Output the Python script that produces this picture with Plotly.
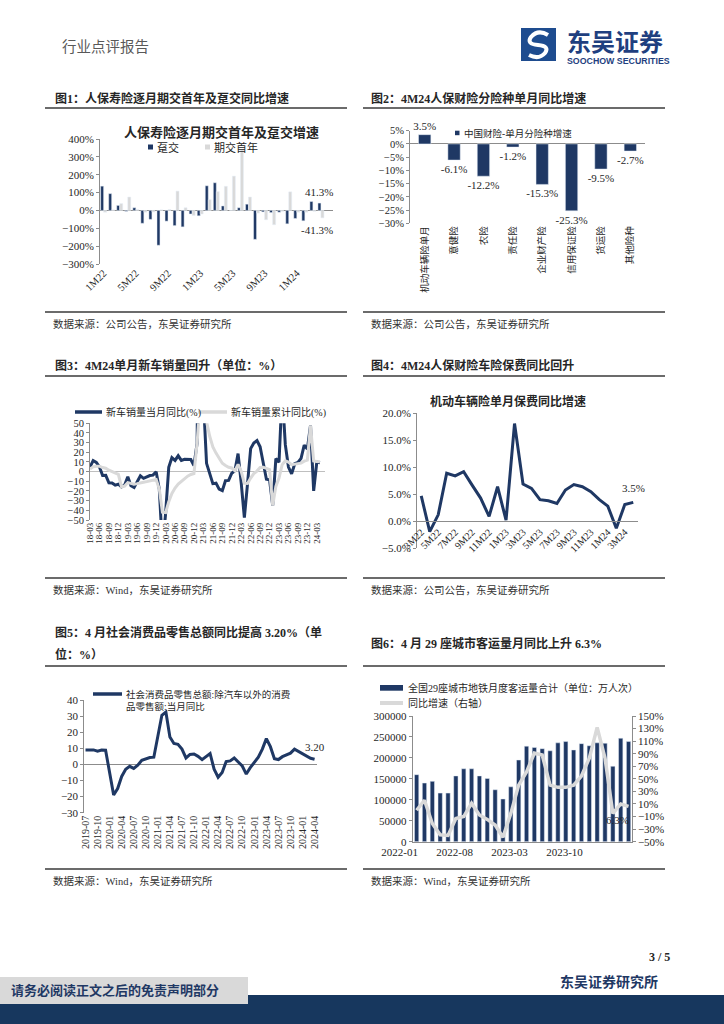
import plotly.graph_objects as go

# ---------------- data ----------------
months1 = [f"{m}M{y}" for y in (22, 23, 24) for m in range(1, 13)][:28]
dun1 = [136, 94, 28, -5, 15, -72, -50, -195, -60, -85, -92, -20, -30, 138,
        155, 25, 0, 15, 35, -162, -8, -12, -10, -75, -45, -58, 50, 41.3]
first1 = [-10, 3, 38, 75, 5, -10, -8, 3, 5, 108, 15, -28, -20, 60,
          105, 135, 192, 338, 75, -15, -52, -80, -5, 104, -10, -10, -5, -41.3]

cats2 = ["机动车辆险单月", "意健险", "农险", "责任险", "企业财产险", "信用保证险", "货运险", "其他险种"]
vals2 = [3.5, -6.1, -12.2, -1.2, -15.3, -25.3, -9.5, -2.7]

months3 = [f"{y:02d}-{m:02d}" for y in range(18, 25) for m in range(1, 13)][2:76]
cur3 = [4.7, 11.5, 9.6, 4.8, -4.0, -3.8, -11.6, -11.7, -13.9, -13.0,
        -15.8, -13.8, -5.2, -14.6, -16.4, -9.6, -4.3, -6.9, -5.2, -4.0, -3.6, 0.0,
        -18.0, -79.1, -43.3, 4.4, 14.5, 11.6, 16.4, 11.6, 12.8, 12.5, 12.6, 6.4,
        29.5, 364.6, 74.9, 8.6, -3.1, -12.4, -11.9, -18.1, -19.6, -9.4, -9.1, -1.6,
        0.9, 18.7, -11.7, -47.6, -12.6, 23.8, 29.7, 32.1, 25.7, 6.9, -7.9, -8.4,
        -35.0, 13.5, 9.7, 82.7, 27.9, 4.8, -2.3, 8.2, 9.5, 13.8, 27.4, 23.5,
        47.9, -19.9, 9.9, 9.3]
cum3 = [2.8, 5.0, 5.6, 5.6, 4.2, 3.5, 1.5, -0.1, -1.7, -2.8,
        -15.8, -14.9, -11.3, -12.1, -12.9, -12.4, -11.4, -11.0, -10.3, -9.7, -9.1, -8.2,
        -18.0, -42.0, -42.4, -31.1, -22.6, -16.9, -12.8, -10.0, -6.9, -4.7, -2.9, -1.9,
        29.5, 76.0, 75.6, 51.8, 36.6, 25.6, 19.2, 13.7, 8.7, 6.3, 4.5, 3.8,
        0.9, 7.5, 0.3, -12.1, -12.2, -6.6, -2.0, 0.6, 4.4, 4.6, 3.3, 2.1,
        -35.0, -15.2, -6.7, 7.1, 11.1, 9.8, 7.2, 7.6, 7.7, 8.8, 10.8, 12.0,
        47.9, 11.1, 10.6, 10.2]

months4 = [f"{m}M{y}" for y in (22, 23, 24) for m in range(1, 13)][2:28]
auto4 = [4.7, -1.9, 1.2, 8.9, 8.4, 9.2, 6.7, 4.3, 0.9, 6.4, 0.2, 18.1, 6.9,
         6.1, 4.0, 3.8, 3.3, 5.8, 6.8, 6.4, 5.5, 4.0, 2.8, -1.3, 3.1, 3.5]

months5 = [f"{y}-{m:02d}" for y in range(2019, 2025) for m in range(1, 13)][6:64]
retail5 = [9.0, 9.2, 9.0, 8.2, 8.9, 8.8,
           None, -19.0, -15.0, -7.5, -3.0, -1.2, -2.5, -0.5, 2.5, 3.6, 4.3, 4.5,
           None, 30.5, 32.5, 17.0, 13.0, 12.5, 9.5, 4.0, 6.2, 6.5, 5.0, 3.0,
           None, 6.8, -3.0, -8.0, -5.0, 1.8, 2.2, 4.0, 1.2, -1.0, -6.0, -2.0,
           None, 4.5, 9.5, 16.0, 11.0, 3.5, 3.0, 4.8, 5.7, 7.0, 9.5, 8.0,
           None, 5.0, 3.8, 3.2]

months6 = [f"{y}-{m:02d}" for y in range(2022, 2025) for m in range(1, 13)][:28]
metro6 = [160000, 140000, 144000, 116000, 116000, 157000, 174000, 174000, 157000, 151000,
          124000, 102000, 131000, 195000, 228000, 225000, 222000, 217000, 236000, 239000,
          219000, 234000, 229000, 236000, 235000, 180000, 247000, 239000]
yoy6 = [0, 16, -21, -39, -40, -13, -10, 11, -7.5, -14.5, -23.5, -43, -5, 40, 61, 91,
        88, 40, 36.5, 36.5, 40, 54.5, 83, 132, 83, -5, 10, 6.3]

# ---------------- style ----------------
W, H = 724, 1024
NAVY = "#1F3864"
LGRAY = "#D9D9D9"
AXC = "#8C8C8C"
TXT = "#262626"
SERIF = "Liberation Serif, Noto Sans CJK SC, serif"


def fx(p):
    return p / W


def fy(p):
    return 1 - p / H


def dom_x(a, b):
    return [fx(a), fx(b)]


def dom_y(top, bottom):
    return [fy(bottom), fy(top)]


def yax(domain, rng, dtick, anchor, suffix="", fmt=None, zl=False, side="left", size=11):
    d = dict(domain=domain, range=rng, dtick=dtick, tick0=rng[0], ticksuffix=suffix,
             showgrid=False, zeroline=zl, zerolinecolor=AXC, zerolinewidth=1,
             showline=True, linecolor=AXC, linewidth=1, ticks="outside", ticklen=3,
             tickcolor=AXC, tickfont=dict(family=SERIF, size=size, color=TXT),
             anchor=anchor, side=side, fixedrange=True, automargin=False)
    if fmt:
        d["tickformat"] = fmt
    return d


def xax(domain, rng, tickvals, angle, anchor, size=10, line=False):
    return dict(domain=domain, type="category", range=rng, tickvals=tickvals,
                tickangle=angle, showgrid=False, zeroline=False, showline=line,
                linecolor=AXC, linewidth=1, ticks="",
                tickfont=dict(family=SERIF, size=size, color=TXT), anchor=anchor,
                fixedrange=True, automargin=False)


fig = go.Figure()

# chart 1
fig.add_trace(go.Bar(x=months1, y=dun1, xaxis="x", yaxis="y", marker_color=NAVY,
                     width=0.37, offset=-0.37))
fig.add_trace(go.Bar(x=months1, y=first1, xaxis="x", yaxis="y", marker_color=LGRAY,
                     width=0.37, offset=0.0))
# chart 2
fig.add_trace(go.Bar(x=cats2, y=vals2, xaxis="x2", yaxis="y2", marker_color=NAVY, width=0.42,
                     text=[f"{v}%" for v in vals2], textposition="outside",
                     textfont=dict(family=SERIF, size=11, color=TXT), cliponaxis=False,
                     constraintext="none"))
# chart 3
fig.add_trace(go.Scatter(x=months3, y=cur3, xaxis="x3", yaxis="y3", mode="lines",
                         line=dict(color=NAVY, width=3)))
fig.add_trace(go.Scatter(x=months3, y=cum3, xaxis="x3", yaxis="y3", mode="lines",
                         line=dict(color=LGRAY, width=3)))
# chart 4
fig.add_trace(go.Scatter(x=months4, y=auto4, xaxis="x4", yaxis="y4", mode="lines",
                         line=dict(color=NAVY, width=3)))
# chart 5
fig.add_trace(go.Scatter(x=months5, y=retail5, xaxis="x5", yaxis="y5", mode="lines",
                         connectgaps=True, line=dict(color=NAVY, width=3)))
# chart 6
fig.add_trace(go.Bar(x=months6, y=metro6, xaxis="x6", yaxis="y6", marker_color=NAVY, width=0.55))
fig.add_trace(go.Scatter(x=months6, y=yoy6, xaxis="x6", yaxis="y7", mode="lines",
                         line=dict(color=LGRAY, width=3.5)))

layout = dict(
    width=W, height=H, autosize=False,
    margin=dict(l=0, r=0, t=0, b=0, pad=0, autoexpand=False),
    paper_bgcolor="white", plot_bgcolor="white", showlegend=False, barmode="group",
    font=dict(family=SERIF, color=TXT),
)

# axes chart 1
layout["xaxis"] = xax(dom_x(100, 333), [-0.45, 28.5], months1[::4], -45, "y", size=10.5)
layout["yaxis"] = yax(dom_y(139, 264), [-300, 400], 100, "x", suffix="%", zl=True)
# chart 2
layout["xaxis2"] = xax(dom_x(410, 645), [-0.5, 7.5], cats2, -90, "y2", size=9.5)
layout["xaxis2"]["tickfont"]["family"] = "Noto Sans CJK SC"
layout["yaxis2"] = yax(dom_y(130.7, 223.3), [-30, 5], 5, "x2", suffix="%", zl=True, size=10.5)
# chart 3
layout["xaxis3"] = xax(dom_x(90, 325), [0, 74.6], months3[::3], -90, "y3", size=9)
layout["yaxis3"] = yax(dom_y(423.3, 520), [-50, 50], 10, "x3", zl=True, size=10.5)
layout["yaxis3"]["zerolinecolor"] = "#BFBFBF"
# chart 4
layout["xaxis4"] = xax(dom_x(417, 637.5), [-0.5, 25.5], months4[::2], -45, "free", size=10, line=True)
layout["xaxis4"]["position"] = fy(521.3)
layout["yaxis4"] = yax(dom_y(413.3, 548.3), [-5, 20], 5, "x4", suffix="%", fmt=".1f")
# chart 5
layout["xaxis5"] = xax(dom_x(84.3, 317), [-0.3, 57.6], months5[::3], -90, "y5", size=10)
layout["yaxis5"] = yax(dom_y(700, 812.7), [-30, 40], 10, "x5", zl=True)
# chart 6
layout["xaxis6"] = xax(dom_x(412.7, 631.7), [-0.5, 27.4], months6[::7], 0, "y6", size=11, line=True)
layout["xaxis6"]["ticklabelshift"] = -17
layout["yaxis6"] = yax(dom_y(716, 841.7), [0, 300000], 50000, "x6", fmt="d")
layout["yaxis7"] = yax(dom_y(716, 841.7), [-50, 150], 20, "x6", suffix="%", side="right")
layout["yaxis7"]["overlaying"] = "y6"

fig.update_layout(**layout)


# ---------------- page decoration ----------------
def T(x, y, s, size=11, color=TXT, bold=False, xanchor="left", family=SERIF):
    if bold:
        s = f"<b>{s}</b>"
    return dict(x=fx(x), y=fy(y), xref="paper", yref="paper", text=s, showarrow=False,
                xanchor=xanchor, yanchor="middle", font=dict(family=family, size=size, color=color))


def rect(x0, y0, x1, y1, fill, line=None):
    return dict(type="rect", xref="paper", yref="paper", x0=fx(x0), x1=fx(x1), y0=fy(y0), y1=fy(y1),
                fillcolor=fill, line=dict(width=0) if line is None else line, layer="above")


def hline(x0, x1, y, color="#3A3A3A", width=1.5):
    return dict(type="line", xref="paper", yref="paper", x0=fx(x0), x1=fx(x1), y0=fy(y), y1=fy(y),
                line=dict(color=color, width=width), layer="above")


def to_path(items, ox, oy):
    out = []
    for it in items:
        c, nums = it[0], it[1:]
        pairs = [f"{fx(ox + nums[i]):.5f},{fy(oy + nums[i + 1]):.5f}" for i in range(0, len(nums), 2)]
        out.append(c + " " + " ".join(pairs))
    return " ".join(out)


shapes = []
ann = []

# header
ann.append(T(60, 47, "行业点评报告", size=14.5, color="#595959"))
shapes.append(rect(521, 28, 556, 61, "#1E4C8F"))
shapes.append(dict(type="path", xref="paper", yref="paper", layer="above",
                   path=to_path([("M", 27, 7), ("Q", 17, 1, 10, 9), ("Q", 5, 16, 17, 17),
                                 ("Q", 29, 18, 24, 25), ("Q", 18, 32, 8, 27)], 521, 28),
                   line=dict(color="white", width=4)))
ann.append(T(565, 40, "东吴证券", size=24, color="#1F3F7F", bold=True, family="Noto Sans CJK SC"))
ann.append(T(618, 61, "SOOCHOW SECURITIES", size=8.8, color="#1F3F7F", bold=True,
             xanchor="center", family="Liberation Sans"))

# figure titles and rules
ann.append(T(53, 98, "图1：人保寿险逐月期交首年及趸交同比增速", size=12, bold=True))
ann.append(T(369, 98, "图2：4M24人保财险分险种单月同比增速", size=12, bold=True))
ann.append(T(53, 365, "图3：4M24单月新车销量回升（单位：%）", size=12, bold=True))
ann.append(T(369, 365, "图4：4M24人保财险车险保费同比回升", size=12, bold=True))
ann.append(T(53, 632, "图5：4 月社会消费品零售总额同比提高 3.20%（单", size=12, bold=True))
ann.append(T(53, 654, "位：%）", size=12, bold=True))
ann.append(T(369, 643, "图6：4 月 29 座城市客运量月同比上升 6.3%", size=12, bold=True))
for y in (108, 376, 666, 312, 578, 869):
    shapes.append(hline(45, 347, y))
    shapes.append(hline(363, 665, y))

# sources
src_co = "数据来源：公司公告，东吴证券研究所"
src_wind = "数据来源：Wind，东吴证券研究所"
ann.append(T(51, 324, src_co, size=10.5, color="#333333"))
ann.append(T(369, 324, src_co, size=10.5, color="#333333"))
ann.append(T(51, 590, src_wind, size=10.5, color="#333333"))
ann.append(T(369, 590, src_co, size=10.5, color="#333333"))
ann.append(T(51, 881, src_wind, size=10.5, color="#333333"))
ann.append(T(369, 881, src_wind, size=10.5, color="#333333"))

# chart 1 title + legend + labels
ann.append(T(221, 132.5, "人保寿险逐月期交首年及趸交增速", size=13, bold=True, xanchor="center"))
shapes.append(rect(148, 144.5, 153, 149.5, NAVY))
ann.append(T(155, 147.5, "趸交", size=11))
shapes.append(rect(205, 144.5, 210, 149.5, LGRAY))
ann.append(T(212, 147.5, "期交首年", size=11))
ann.append(dict(x=months1[-1], y=dun1[-1], xref="x", yref="y", text="41.3%", showarrow=False,
                yshift=11, xshift=-2, font=dict(family=SERIF, size=11, color=TXT)))
ann.append(dict(x=months1[-1], y=first1[-1], xref="x", yref="y", text="-41.3%", showarrow=False,
                yshift=-12, xshift=-4, font=dict(family=SERIF, size=11, color=TXT)))

# chart 2 legend
shapes.append(rect(455, 130.7, 459.5, 135.2, NAVY))
ann.append(T(462, 133, "中国财险-单月分险种增速", size=9.5))

# chart 3 legend
shapes.append(hline(75, 102, 412, NAVY, 3.5))
ann.append(T(104, 412, "新车销量当月同比(%)", size=10))
shapes.append(hline(198, 227, 412, LGRAY, 3.5))
ann.append(T(229, 412, "新车销量累计同比(%)", size=10))

# chart 4 title + label
ann.append(T(508, 401, "机动车辆险单月保费同比增速", size=12, bold=True, xanchor="center"))
ann.append(dict(x=months4[-1], y=auto4[-1], xref="x4", yref="y4", text="3.5%", showarrow=False,
                yshift=14, font=dict(family=SERIF, size=11, color=TXT)))

# chart 5 legend + label
shapes.append(hline(93, 122, 694, NAVY, 3.5))
ann.append(T(124, 694, "社会消费品零售总额:除汽车以外的消费", size=9.5))
ann.append(T(124, 706, "品零售额:当月同比", size=9.5))
ann.append(dict(x=months5[-1], y=retail5[-1], xref="x5", yref="y5", text="3.20", showarrow=False,
                yshift=12, font=dict(family=SERIF, size=11, color=TXT)))

# chart 6 legend + label
shapes.append(rect(380, 685, 403, 690.7, NAVY))
ann.append(T(406, 688, "全国29座城市地铁月度客运量合计（单位：万人次）", size=10))
shapes.append(hline(380, 403, 703, LGRAY, 4))
ann.append(T(406, 703, "同比增速（右轴）", size=10))
ann.append(dict(x=months6[-1], y=yoy6[-1], xref="x6", yref="y7", text="6.3%", showarrow=False,
                yshift=-14, xshift=-11, font=dict(family=SERIF, size=11, color=TXT)))

# footer
ann.append(T(672, 957, "3 / 5", size=12, bold=True, xanchor="right"))
ann.append(T(660, 982, "东吴证券研究所", size=14, bold=True, color=NAVY, xanchor="right"))
shapes.append(rect(0, 995, 724, 1024, "#17375E"))
shapes.append(rect(0, 977, 248, 1004, "#D9D9D9"))
ann.append(T(9, 990, "请务必阅读正文之后的免责声明部分", size=13, bold=True, color=NAVY))

fig.update_layout(shapes=shapes, annotations=ann)
fig.write_html("out.html", config={"displayModeBar": False},
               post_script="document.body.style.margin='0';document.body.style.overflow='hidden';")
